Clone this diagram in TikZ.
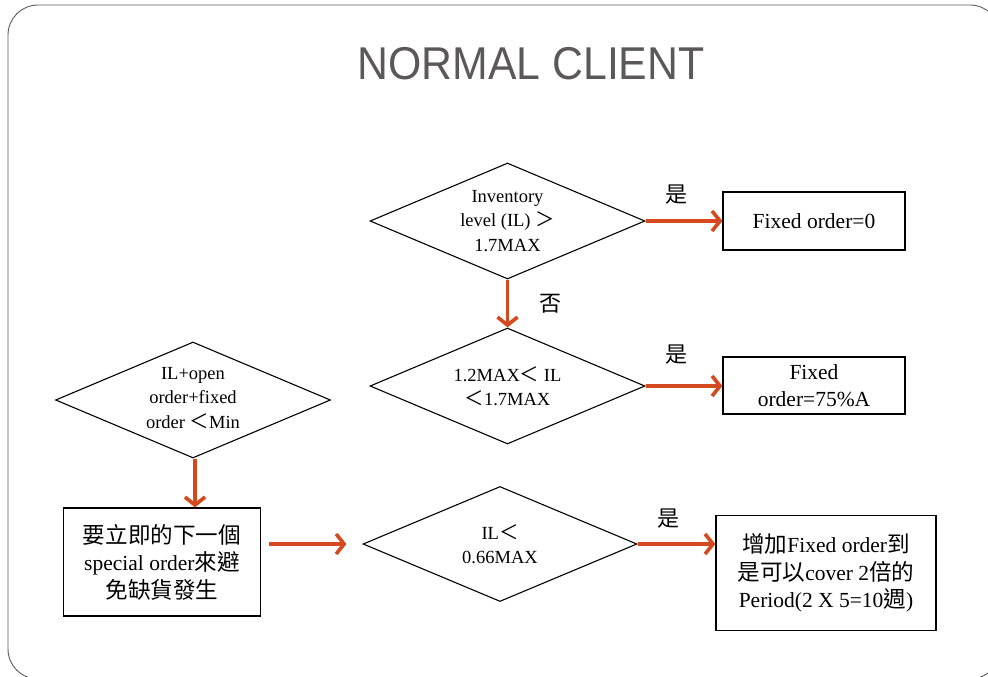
\documentclass[tikz,border=0pt]{standalone}
\usepackage{fontspec}
\setmainfont{Liberation Serif}
\newfontfamily\titlefont{Liberation Sans}
\newfontfamily\cjk[Scale=1.05]{Noto Sans CJK TC}
\usetikzlibrary{shapes.geometric,arrows.meta}
\definecolor{arrowc}{RGB}{212,74,30}
\definecolor{framec}{RGB}{90,90,90}
\definecolor{titlec}{RGB}{90,88,88}
\tikzset{
  decision/.style={draw=black, line width=1.1pt, diamond, inner sep=0pt,
    minimum width=275pt, minimum height=116pt},
  dtext/.style={align=center, inner sep=0pt,
    font=\fontsize{18.5}{24.5}\selectfont},
  outbox/.style={draw=black, line width=1.3pt, rectangle, inner sep=2pt, align=center,
    font=\fontsize{21.5}{27.5}\selectfont},
  flow/.style={draw=arrowc, line width=3.6pt,
    -{Straight Barb[length=8pt,width=20pt,line width=3.6pt]}},
  lbl/.style={font=\cjk\fontsize{21}{24}\selectfont, inner sep=0pt}
}
\begin{document}
\begin{tikzpicture}[x=1pt,y=-1pt]
\useasboundingbox (0,0) rectangle (988,677);
\begin{scope}
  \clip (0,0) rectangle (988,677);
  \draw[framec, line width=0.9pt, rounded corners=30pt] (8,5) rectangle (1000,679);
\end{scope}

\node[titlec, inner sep=0pt, font=\titlefont\fontsize{46}{50}\selectfont] (title) at (531,63.5)
  {\scalebox{0.93}[1]{NORMAL CLIENT}};

% decisions
\node[decision] (d1) at (507.5,221) {};
\node[dtext] (t1) at (d1.center) {Inventory\\level (IL) {\cjk ＞}\\1.7MAX};
\node[decision] (d2) at (507.5,386) {};
\node[dtext] (t2) at (d2.center) {1.2MAX{\cjk ＜} IL\\{\cjk ＜}1.7MAX};
\node[decision] (d3) at (193,400) {};
\node[dtext] (t3) at ([yshift=2pt]d3.center) {IL+open\\order+fixed\\order {\cjk ＜}Min};
\node[decision, minimum width=274pt, minimum height=115pt] (d4) at (500,544) {};
\node[dtext] (t4) at (d4.center) {IL{\cjk ＜}\\0.66MAX};

% outcome boxes
\node[outbox, minimum width=182pt, minimum height=58pt] (b1) at (814,221) {Fixed order=0};
\node[outbox, minimum width=182pt, minimum height=57pt] (b2) at (814,385.5) {Fixed\\order=75\%A};
\node[outbox, minimum width=197pt, minimum height=108pt] (b3) at (162,562)
  {{\cjk 要立即的下一個}\\special order{\cjk 來避}\\{\cjk 免缺貨發生}};
\node[outbox, minimum width=220pt, minimum height=115pt] (b4) at (826,573)
  {{\cjk 增加}Fixed order{\cjk 到}\\{\cjk 是可以}cover 2{\cjk 倍的}\\Period(2 X 5=10{\cjk 週})};

% connectors
\draw[flow] (d1.east) -- (b1.west);
\draw[flow] (d1.south) -- (d2.north);
\draw[flow] (d2.east) -- (d2.east -| b2.west);
\draw[flow] ([xshift=2pt]d3.south) -- ([xshift=2pt]d3.south |- b3.north);
\draw[flow, shorten <=8pt, shorten >=16pt] (b3.east |- d4.west) -- (d4.west);
\draw[flow] (d4.east) -- (d4.east -| b4.west);

% labels
\node[lbl] (y1) at (677,195) {是};
\node[lbl] (n1) at (551,304) {否};
\node[lbl] (y2) at (677,355) {是};
\node[lbl] (y3) at (669,519) {是};
\end{tikzpicture}
\end{document}
